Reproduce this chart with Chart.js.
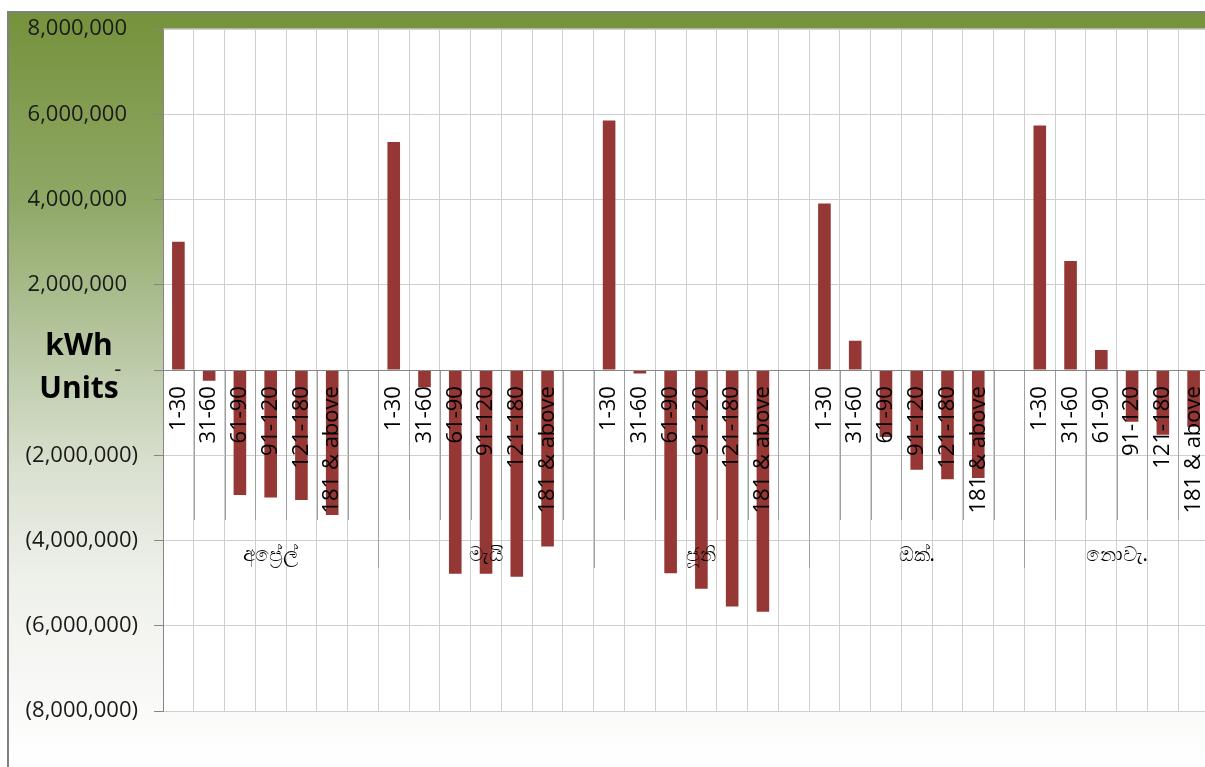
<!DOCTYPE html>
<html>
<head>
<meta charset="utf-8">
<script src="https://cdn.jsdelivr.net/npm/chart.js@4.4.0/dist/chart.umd.min.js"></script>
<style>
  html, body { margin: 0; padding: 0; overflow: hidden; background: #fff; }
  canvas { display: block; }
</style>
</head>
<body>
<canvas id="graficoUnidades" width="1209" height="767"></canvas>
<script>
// bandas de dias (categorias de cada mes)
var bandas = ['1-30', '31-60', '61-90', '91-120', '121-180', '181 & above'];
var meses = ['අප්‍රේල්', 'මැයි', 'ජූනි', 'ඔක්.', 'නොවැ.'];

// valores em kWh por mes
var abril = [3010000, -250000, -2930000, -2990000, -3050000, -3400000];
var maio = [5350000, -400000, -4780000, -4780000, -4850000, -4140000];
var junho = [5860000, -80000, -4770000, -5130000, -5550000, -5670000];
var outubro = [3910000, 690000, -1570000, -2340000, -2560000, -2530000];
var novembro = [5740000, 2560000, 470000, -1210000, -1520000, -1330000];

// marcas do eixo y
var marcasY = [8000000, 6000000, 4000000, 2000000, 0, -2000000, -4000000, -6000000, -8000000];

// monta categorias com um espaco vazio entre os meses
var series = [abril, maio, junho, outubro, novembro];
var rotulos = [];
var valores = [];
var inicioGrupo = [];
series.forEach(function (s, i) {
    inicioGrupo.push(rotulos.length);
    bandas.forEach(function (b, j) {
        rotulos.push(b);
        valores.push(s[j]);
    });
    if (i < series.length - 1) {
        rotulos.push('');
        valores.push(null);
    }
});

function formataNumero(v) {
    if (v === 0) return '- \u2002';
    var txt = Math.abs(v).toLocaleString('en-US');
    return v < 0 ? '(' + txt + ')' : txt + '\u2002';
}

var fonte = "'Open Sans', 'Noto Sans', sans-serif";

// fundo em degrade e moldura
var pluginFundo = {
    id: 'fundo',
    beforeDraw: function (chart) {
        var c = chart.ctx;
        var a = chart.chartArea;
        c.save();
        c.fillStyle = '#ffffff';
        c.fillRect(0, 0, chart.width, chart.height);
        var g = c.createLinearGradient(0, 13, 0, 767);
        g.addColorStop(0, '#76923c');
        g.addColorStop(0.25, '#8fa866');
        g.addColorStop(0.45, '#b9c8a4');
        g.addColorStop(0.6, '#d9e0cf');
        g.addColorStop(0.75, '#eef0ea');
        g.addColorStop(1, '#ffffff');
        c.fillStyle = g;
        c.fillRect(9, 13, chart.width - 9, chart.height - 13);
        c.fillStyle = '#808080';
        c.fillRect(7, 11, chart.width - 7, 2);
        c.fillRect(7, 11, 2, chart.height - 11);
        c.fillStyle = '#ffffff';
        c.fillRect(a.left, a.top, a.right - a.left, a.bottom - a.top);
        c.fillStyle = '#c0c0c0';
        c.fillRect(a.left, a.top - 1, a.right - a.left, 1.5);
        c.restore();
    }
};

// divisorias do eixo de categorias (dois niveis)
var pluginDivisorias = {
    id: 'divisorias',
    beforeDatasetsDraw: function (chart) {
        var c = chart.ctx;
        var y0 = chart.scales.y.getPixelForValue(0);
        var larg = (chart.chartArea.right - chart.chartArea.left) / rotulos.length;
        c.save();
        c.strokeStyle = '#a0a0a0';
        c.lineWidth = 1;
        for (var k = 1; k < rotulos.length; k++) {
            var px = Math.round(chart.chartArea.left + k * larg) + 0.5;
            var grupo = inicioGrupo.indexOf(k) >= 0;
            c.beginPath();
            c.moveTo(px, y0);
            c.lineTo(px, grupo ? 568 : 520);
            c.stroke();
        }
        c.restore();
    },
    afterDraw: function (chart) {
        var c = chart.ctx;
        var a = chart.chartArea;
        var larg = (a.right - a.left) / rotulos.length;
        c.save();
        c.fillStyle = '#000';
        c.textAlign = 'center';
        c.textBaseline = 'middle';
        c.font = "20px 'Noto Sans', " + fonte;
        meses.forEach(function (m, i) {
            var ini = inicioGrupo[i];
            var fim = i < meses.length - 1 ? inicioGrupo[i + 1] : rotulos.length;
            c.fillText(m, a.left + (ini + fim) / 2 * larg, 555);
        });
        // titulo do eixo y
        c.font = "bold 30px " + fonte;
        c.fillText('kWh', 79, 346);
        c.fillText('Units', 79, 389);
        c.restore();
    }
};

var ctx = document.getElementById('graficoUnidades').getContext('2d');

var grafico = new Chart(ctx, {
    type: 'bar',
    data: {
        labels: rotulos,
        datasets: [{
            label: 'kWh',
            data: valores,
            backgroundColor: '#953735',
            borderWidth: 0,
            barPercentage: 0.41,
            categoryPercentage: 1
        }]
    },
    options: {
        responsive: false,
        animation: false,
        layout: { autoPadding: false, padding: { top: 29, bottom: 56, left: 0, right: 0 } },
        plugins: {
            legend: { display: false },
            tooltip: { enabled: false }
        },
        scales: {
            x: {
                position: { y: 0 },
                afterFit: function (s) { s.paddingLeft = 0; s.paddingRight = 0; },
                grid: {
                    color: '#cfcfcf',
                    drawTicks: false,
                    offset: true
                },
                border: { color: '#868686', width: 1, z: 1 },
                ticks: {
                    z: 1,
                    autoSkip: false,
                    maxRotation: 90,
                    minRotation: 90,
                    padding: 16,
                    color: '#000',
                    font: { family: fonte, size: 22 }
                }
            },
            y: {
                min: -8000000,
                max: 8000000,
                afterFit: function (s) { s.width = 163; },
                afterBuildTicks: function (s) {
                    s.ticks = marcasY.map(function (v) { return { value: v }; });
                },
                grid: {
                    color: '#cfcfcf',
                    tickColor: '#868686',
                    tickLength: 9
                },
                border: { color: '#868686', width: 1 },
                ticks: {
                    padding: 16,
                    color: '#1a1a1a',
                    font: { family: fonte, size: 22 },
                    callback: function (v) { return formataNumero(v); }
                }
            }
        }
    },
    plugins: [pluginFundo, pluginDivisorias]
});
</script>
</body>
</html>
